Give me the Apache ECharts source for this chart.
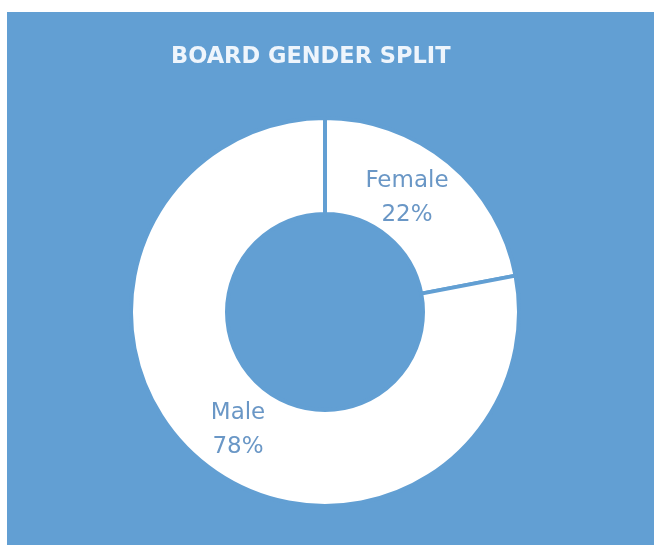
<!DOCTYPE html>
<html>
<head>
<meta charset="utf-8">
<script src="https://cdn.jsdelivr.net/npm/echarts@6/dist/echarts.min.js"></script>
<style>
  html, body { margin: 0; padding: 0; background: #ffffff; }
  #chart { position: absolute; left: 7px; top: 12px; width: 647px; height: 533px; }
</style>
</head>
<body>
<div id="chart"></div>
<script>
(function() {
  'use strict';

  // --- Data ---
  var categories = ['Female', 'Male'];
  var shares = [22, 78];
  var titleText = 'BOARD GENDER SPLIT';

  var BLUE = '#629fd3';
  var LABEL = '#6a97c6';

  // small nudges so labels sit where the original put them
  var labelNudge = [[-13, 1], [8, 3]];

  var chart = echarts.init(document.getElementById('chart'), null, { renderer: 'canvas' });

  var data = categories.map(function(name, i) {
    return { name: name, value: shares[i], label: { offset: labelNudge[i] } };
  });

  chart.setOption({
    animation: false,
    backgroundColor: BLUE,
    title: {
      text: titleText,
      left: 159,
      top: 29,
      textStyle: {
        color: '#eef5fc',
        fontFamily: '"DejaVu Sans", sans-serif',
        fontWeight: 'bold',
        fontSize: 22.5
      }
    },
    series: [{
      type: 'pie',
      center: [318, 300],
      radius: [98, 194],
      startAngle: 90,
      clockwise: true,
      data: data,
      itemStyle: {
        color: '#ffffff',
        borderColor: BLUE,
        borderWidth: 4
      },
      label: {
        show: true,
        position: 'inside',
        color: LABEL,
        fontFamily: '"DejaVu Sans", sans-serif',
        fontSize: 23,
        lineHeight: 34,
        formatter: function(p) { return p.name + '\n' + p.value + '%'; }
      },
      labelLine: { show: false },
      emphasis: { disabled: true }
    }]
  });
})();
</script>
</body>
</html>
